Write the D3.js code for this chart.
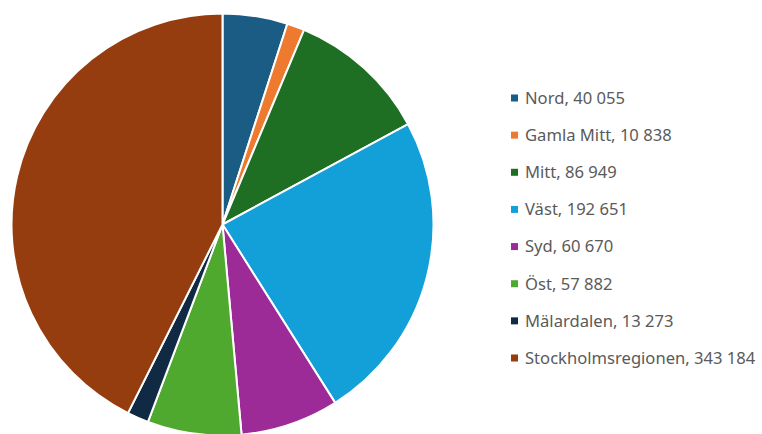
<!DOCTYPE html>
<html><head><meta charset="utf-8">
<script src="https://cdn.jsdelivr.net/npm/d3@7"></script>
<style>body{margin:0;background:#fff;}svg{display:block;}</style>
</head><body>
<svg id="c" width="762" height="434"></svg>
<script>
const categories = ["Nord","Gamla Mitt","Mitt","Väst","Syd","Öst","Mälardalen","Stockholmsregionen"];
const values = [40055,10838,86949,192651,60670,57882,13273,343184];
const labels = ["40 055","10 838","86 949","192 651","60 670","57 882","13 273","343 184"];
const colors = ["#1b5c85","#ee7a30","#1e6e24","#139fd8","#9d2b97","#4fa92f","#0f2a42","#963d10"];

const svg = d3.select("#c");
const data = categories.map((c,i)=>({name:c,value:values[i],label:labels[i],color:colors[i]}));
const pie = d3.pie().sort(null).value(d=>d.value);
const arc = d3.arc().innerRadius(0).outerRadius(211);
const g = svg.append("g").attr("transform","translate(222.5,224.5)");
g.selectAll("path").data(pie(data)).join("path")
  .attr("d",arc).attr("fill",d=>d.data.color)
  .attr("stroke","#fff").attr("stroke-width",2).attr("stroke-linejoin","round");

const y = d3.scalePoint().domain(categories).range([98,358]);
const lg = svg.append("g");
const row = lg.selectAll("g").data(data).join("g")
  .attr("transform",d=>`translate(511,${y(d.name)})`);
row.append("rect").attr("x",0).attr("y",-3.5).attr("width",7).attr("height",7).attr("fill",d=>d.color);
row.append("text").attr("x",14).attr("y",0).attr("dy","0.35em")
  .attr("font-family","'Noto Sans', sans-serif").attr("font-size",16.6)
  .attr("fill","#5a5a5a").text(d=>`${d.name}, ${d.label}`);
</script>
</body></html>
